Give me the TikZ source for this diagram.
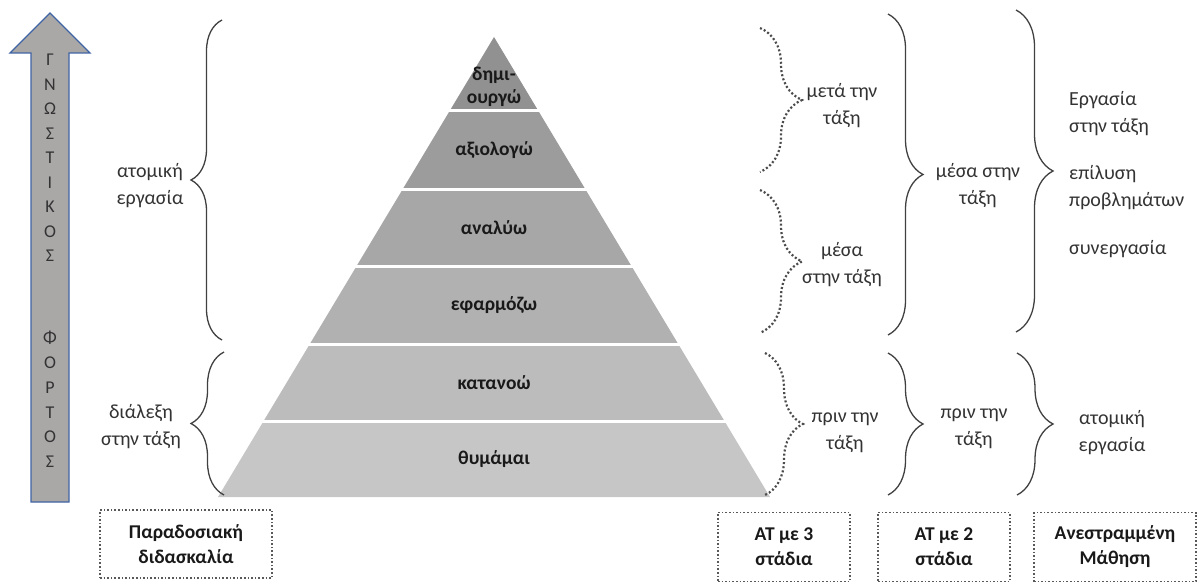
\documentclass[tikz,border=0pt]{standalone}
\usepackage{fontspec}
\setmainfont{Carlito}
\usetikzlibrary{decorations.pathreplacing}

\definecolor{txtgray}{HTML}{333333}
\definecolor{bracegray}{HTML}{404040}
\definecolor{arrowfill}{HTML}{AAA7A7}
\definecolor{arrowblue}{HTML}{3F64A3}
\definecolor{lvA}{HTML}{919191}
\definecolor{lvB}{HTML}{9C9C9C}
\definecolor{lvC}{HTML}{A7A7A7}
\definecolor{lvD}{HTML}{B1B1B1}
\definecolor{lvE}{HTML}{BCBCBC}
\definecolor{lvF}{HTML}{C6C6C6}

\tikzset{
  level/.style={font=\bfseries\fontsize{19.5}{23}\selectfont, text=black!90, align=center, inner sep=0pt},
  letter/.style={font=\fontsize{18}{20}\selectfont, text=txtgray, inner sep=0pt},
  phase/.style={font=\fontsize{20}{27}\selectfont, text=txtgray, align=center, inner sep=0pt},
  phase left/.style={phase, align=left, anchor=west},
  stagebox/.style={draw=black!65, dotted, line width=1.6pt, font=\bfseries\fontsize{19.5}{25}\selectfont,
    text=black!90, align=center, inner sep=0pt},
  solid brace/.style={draw=bracegray, line width=1.3pt, decorate, decoration={brace, amplitude=#1}},
  dotted brace/.style={draw=black!70, line width=2.2pt, dash pattern=on 2pt off 2.2pt,
    decorate, decoration={brace, amplitude=#1}},
}

\begin{document}
\begin{tikzpicture}[x=1pt,y=-1pt]
    \useasboundingbox (0,0) rectangle (1198,583);

    % Load arrow
    \draw[fill=arrowfill, draw=arrowblue, line width=1.4pt, line join=miter]
      (31,502) -- (31,53) -- (10,53) -- (50,13) -- (90,53) -- (69,53) -- (69,502) -- cycle;
    \foreach \ch [count=\i] in {Γ,Ν,Ω,Σ,Τ,Ι,Κ,Ο,Σ}
      \node[letter] (ltrA\i) at (50,{60+(\i-1)*24.5}) {\ch};
    \foreach \ch [count=\i] in {Φ,Ο,Ρ,Τ,Ο,Σ}
      \node[letter] (ltrB\i) at (50,{338+(\i-1)*24.8}) {\ch};

    % Pyramid
    \foreach \t/\b/\c/\name/\txt in {37/111/lvA/create/{},111/189/lvB/evaluate/αξιολογώ,
        189/266/lvC/analyse/αναλύω,266/344/lvD/apply/εφαρμόζω,
        344/421/lvE/understand/κατανοώ,421/497/lvF/remember/θυμάμαι}{
      \pgfmathsetmacro\wt{0.6*(\t-37)}
      \pgfmathsetmacro\wb{0.6*(\b-37)}
      \fill[\c] (494-\wt,\t) -- (494+\wt,\t) -- (494+\wb,\b) -- (494-\wb,\b) -- cycle;
      \node[level] (\name) at (494,{(\t+\b)/2}) {\txt};
    }
    \node[level] (createtxt) at (494,87) {δημι-\\ουργώ};
    \foreach \y in {111,189,266,344,421}{
      \pgfmathsetmacro\w{0.6*(\y-37)+2}
      \draw[white, line width=3pt] (494-\w,\y) -- (494+\w,\y);
    }

    % Traditional teaching
    \coordinate (tradA1) at (222,340);
    \coordinate (tradA2) at (222,20);
    \coordinate (tradB1) at (224,495);
    \coordinate (tradB2) at (224,352);
    \draw[solid brace=31pt] (tradA1) -- (tradA2);
    \draw[solid brace=33pt] (tradB1) -- (tradB2);
    \node[phase] (tradtop) at (150,186) {ατομική\\εργασία};
    \node[phase] (tradbot) at (141,427) {διάλεξη\\στην τάξη};

    % Three stages
    \coordinate (threeA1) at (760,28);
    \coordinate (threeA2) at (760,172);
    \coordinate (threeB1) at (760,190);
    \coordinate (threeB2) at (760,333);
    \coordinate (threeC1) at (765,353);
    \coordinate (threeC2) at (765,495);
    \draw[dotted brace=42pt] (threeA1) -- (threeA2);
    \draw[dotted brace=42pt] (threeB1) -- (threeB2);
    \draw[dotted brace=38pt] (threeC1) -- (threeC2);
    \node[phase] (threeafter) at (842,106) {μετά την\\τάξη};
    \node[phase] (threein) at (842,265) {μέσα\\στην τάξη};
    \node[phase] (threebefore) at (845,433) {πριν την\\τάξη};

    % Two stages
    \coordinate (twoA1) at (888,14);
    \coordinate (twoA2) at (888,335);
    \coordinate (twoB1) at (888,353);
    \coordinate (twoB2) at (888,495);
    \draw[solid brace=35pt] (twoA1) -- (twoA2);
    \draw[solid brace=35pt] (twoB1) -- (twoB2);
    \node[phase] (twoin) at (978,186) {μέσα στην\\τάξη};
    \node[phase] (twobefore) at (974,429) {πριν την\\τάξη};

    % Flipped learning
    \coordinate (flipA1) at (1016,10);
    \coordinate (flipA2) at (1016,332);
    \coordinate (flipB1) at (1017,353);
    \coordinate (flipB2) at (1017,495);
    \draw[solid brace=37pt] (flipA1) -- (flipA2);
    \draw[solid brace=36pt] (flipB1) -- (flipB2);
    \node[phase left] (flipwork) at (1069,114) {Εργασία\\στην τάξη};
    \node[phase left] (flipsolve) at (1069,188) {επίλυση\\προβλημάτων};
    \node[phase left] (flipcoop) at (1069,249) {συνεργασία};
    \node[phase] (flipself) at (1112,433) {ατομική\\εργασία};

    % Models
    \node[stagebox, minimum width=172pt, minimum height=68pt] (tradbox) at (186,544) {Παραδοσιακή\\διδασκαλία};
    \node[stagebox, minimum width=132pt, minimum height=69pt] (threebox) at (784,547) {AT με 3\\στάδια};
    \node[stagebox, minimum width=132pt, minimum height=69pt] (twobox) at (944,547) {AT με 2\\στάδια};
    \node[stagebox, minimum width=162pt, minimum height=69pt] (flipbox) at (1115,547) {Ανεστραμμένη\\Μάθηση};

\end{tikzpicture}
\end{document}
